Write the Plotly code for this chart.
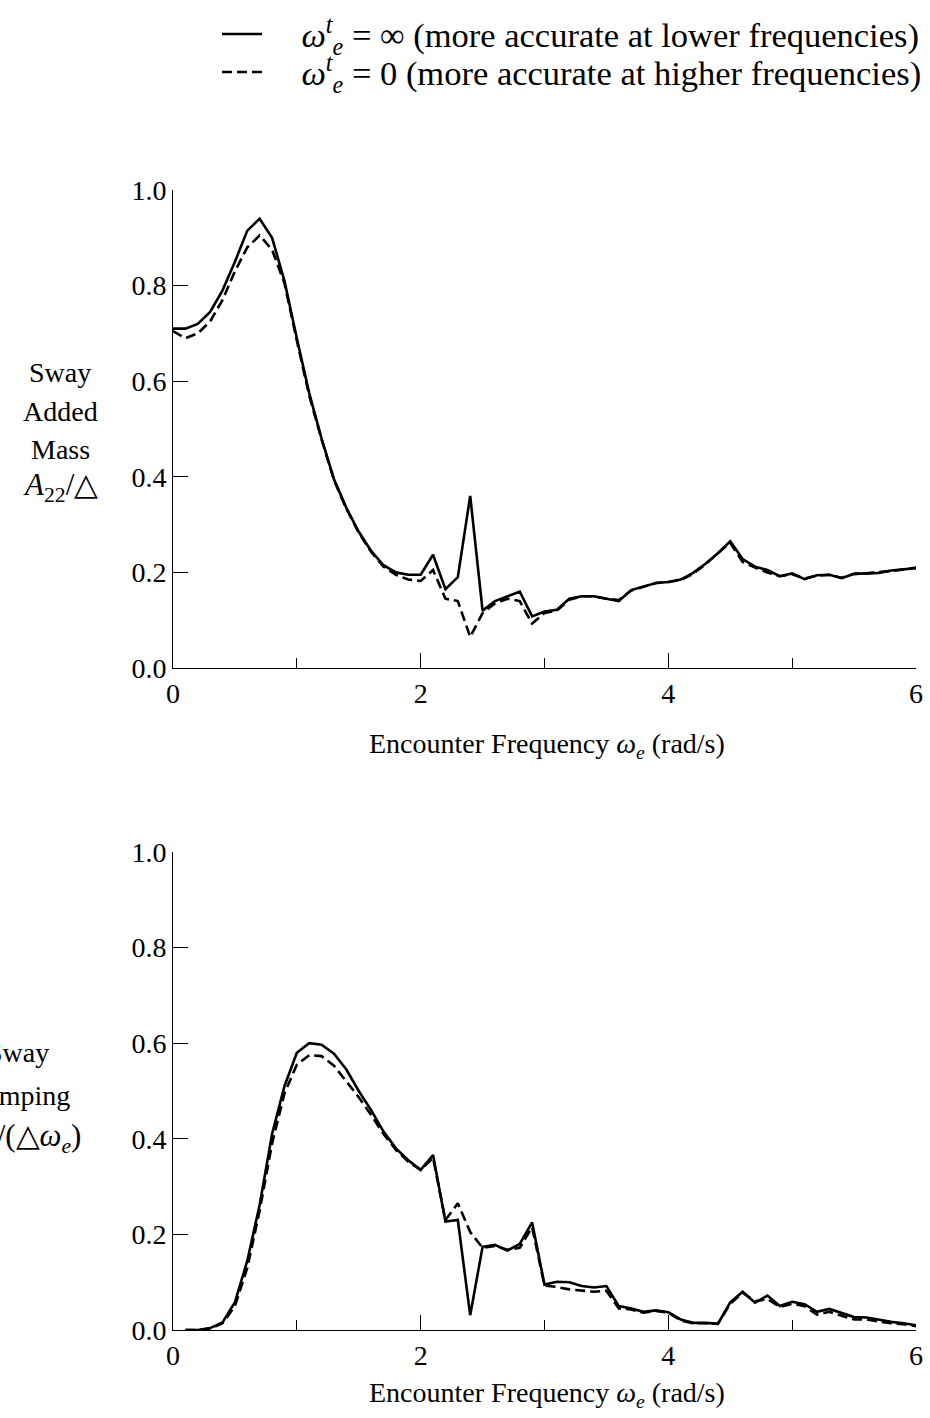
import plotly.graph_objects as go

# ---------------- data ----------------
freq_a = [0.0, 0.1, 0.2, 0.3, 0.4, 0.5, 0.6, 0.7, 0.8, 0.9,
          1.0, 1.1, 1.2, 1.3, 1.4, 1.5, 1.6, 1.7, 1.8, 1.9,
          2.0, 2.1, 2.2, 2.3, 2.4, 2.5, 2.6, 2.7, 2.8, 2.9,
          3.0, 3.1, 3.2, 3.3, 3.4, 3.5, 3.6, 3.7, 3.8, 3.9,
          4.0, 4.1, 4.2, 4.3, 4.4, 4.5, 4.6, 4.7, 4.8, 4.9,
          5.0, 5.1, 5.2, 5.3, 5.4, 5.5, 5.6, 5.7, 5.8, 5.9, 6.0]

a22_inf = [0.71, 0.71, 0.72, 0.745, 0.79, 0.85, 0.915, 0.94, 0.90, 0.81,
           0.69, 0.575, 0.48, 0.395, 0.335, 0.285, 0.245, 0.215, 0.20, 0.195,
           0.195, 0.237, 0.165, 0.19, 0.36, 0.12, 0.14, 0.15, 0.16, 0.108,
           0.118, 0.122, 0.145, 0.15, 0.15, 0.145, 0.14, 0.163, 0.17, 0.178,
           0.18, 0.185, 0.199, 0.218, 0.24, 0.265, 0.228, 0.212, 0.205, 0.192,
           0.198, 0.186, 0.194, 0.195, 0.188, 0.197, 0.198, 0.199, 0.204, 0.206, 0.209]

a22_zero = [0.705, 0.69, 0.70, 0.725, 0.77, 0.83, 0.88, 0.905, 0.875, 0.805,
            0.685, 0.57, 0.478, 0.393, 0.333, 0.283, 0.243, 0.212, 0.195, 0.185,
            0.182, 0.205, 0.145, 0.14, 0.065, 0.115, 0.135, 0.145, 0.14, 0.093,
            0.115, 0.12, 0.143, 0.15, 0.15, 0.145, 0.142, 0.162, 0.17, 0.178,
            0.18, 0.184, 0.197, 0.217, 0.24, 0.262, 0.222, 0.21, 0.20, 0.192,
            0.196, 0.187, 0.193, 0.195, 0.189, 0.197, 0.198, 0.20, 0.203, 0.206, 0.21]

freq_b = [0.1, 0.2, 0.3, 0.4, 0.5, 0.6, 0.7, 0.8, 0.9,
          1.0, 1.1, 1.2, 1.3, 1.4, 1.5, 1.6, 1.7, 1.8, 1.9,
          2.0, 2.1, 2.2, 2.3, 2.4, 2.5, 2.6, 2.7, 2.8, 2.9,
          3.0, 3.1, 3.2, 3.3, 3.4, 3.5, 3.6, 3.7, 3.8, 3.9,
          4.0, 4.1, 4.2, 4.3, 4.4, 4.5, 4.6, 4.7, 4.8, 4.9,
          5.0, 5.1, 5.2, 5.3, 5.4, 5.5, 5.6, 5.7, 5.8, 5.9, 6.0]

b22_inf = [0.0, 0.0, 0.004, 0.016, 0.058, 0.145, 0.262, 0.41, 0.51,
           0.58, 0.60, 0.597, 0.578, 0.545, 0.50, 0.46, 0.415, 0.38, 0.355,
           0.335, 0.366, 0.227, 0.23, 0.031, 0.174, 0.178, 0.166, 0.18, 0.225,
           0.095, 0.101, 0.100, 0.092, 0.089, 0.092, 0.05, 0.045, 0.038, 0.041,
           0.037, 0.022, 0.015, 0.015, 0.013, 0.058, 0.08, 0.057, 0.072, 0.05,
           0.059, 0.054, 0.038, 0.044, 0.035, 0.027, 0.026, 0.021, 0.017, 0.014, 0.01]

b22_zero = [0.0, 0.0, 0.003, 0.014, 0.05, 0.13, 0.25, 0.39, 0.495,
            0.555, 0.575, 0.573, 0.553, 0.52, 0.487, 0.45, 0.41, 0.377, 0.352,
            0.335, 0.36, 0.23, 0.265, 0.205, 0.172, 0.176, 0.168, 0.172, 0.215,
            0.093, 0.09, 0.085, 0.082, 0.08, 0.082, 0.045, 0.043, 0.036, 0.04,
            0.036, 0.02, 0.014, 0.014, 0.013, 0.055, 0.078, 0.06, 0.065, 0.048,
            0.055, 0.05, 0.032, 0.038, 0.03, 0.022, 0.022, 0.018, 0.014, 0.012, 0.008]

series_names = [
    "<i>ω</i><sup><i>t</i></sup><sub><i>e</i></sub> = ∞ (more accurate at lower frequencies)",
    "<i>ω</i><sup><i>t</i></sup><sub><i>e</i></sub> = 0 (more accurate at higher frequencies)",
]
x_title = "Encounter Frequency <i>ω</i><sub><i>e</i></sub> (rad/s)"
y_lines_top = ["Sway", "Added", "Mass", "<i>A</i><sub>22</sub>/△"]
y_lines_bot = ["Sway", "Damping", "<i>B</i><sub>22</sub>/(△<i>ω</i><sub><i>e</i></sub>)"]

# ---------------- figure ----------------
W, H = 930, 1418
FONT = "Liberation Serif, Times New Roman, serif"
FS = 28
MATH_FS = 31
LEG_FS = 34.5
LW = 2.6
DASH = "10px,5px"
PAD = "\u00a0" * 4

fig = go.Figure()
fig.add_trace(go.Scatter(x=freq_a, y=a22_inf, mode="lines", name=PAD + series_names[0],
                         legend="legend",
                         line=dict(color="black", width=LW), xaxis="x", yaxis="y"))
fig.add_trace(go.Scatter(x=freq_a, y=a22_zero, mode="lines", name=PAD + series_names[1],
                         legend="legend2",
                         line=dict(color="black", width=LW, dash=DASH), xaxis="x", yaxis="y"))
fig.add_trace(go.Scatter(x=freq_b, y=b22_inf, mode="lines", showlegend=False,
                         line=dict(color="black", width=LW), xaxis="x2", yaxis="y2"))
fig.add_trace(go.Scatter(x=freq_b, y=b22_zero, mode="lines", showlegend=False,
                         line=dict(color="black", width=LW, dash=DASH), xaxis="x2", yaxis="y2"))

x_dom = [173 / W, 916 / W]
top_dom = [1 - 668 / H, 1 - 190 / H]
bot_dom = [1 - 1330 / H, 1 - 852 / H]


def xax(anchor):
    return dict(domain=x_dom, anchor=anchor, range=[0, 6], dtick=2, tick0=0,
                ticks="inside", ticklen=15, tickwidth=1, tickcolor="black",
                minor=dict(dtick=1, tick0=0, ticks="inside", ticklen=10, tickwidth=1, tickcolor="black"),
                showline=True, linecolor="black", linewidth=1, showgrid=False, zeroline=False,
                automargin=False,
                tickfont=dict(family=FONT, size=FS, color="black"), fixedrange=True)


def yax(anchor, dom):
    return dict(domain=dom, anchor=anchor, range=[0, 1], dtick=0.2, tick0=0, tickformat=".1f",
                ticks="inside", ticklen=15, tickwidth=1, tickcolor="black",
                showline=True, linecolor="black", linewidth=1, showgrid=False, zeroline=False,
                automargin=False,
                tickfont=dict(family=FONT, size=FS, color="black"), fixedrange=True)


def legend_at(ypix):
    return dict(x=217 / W, xanchor="left", y=1 - ypix / H, yanchor="middle",
                bgcolor="rgba(0,0,0,0)", borderwidth=0,
                font=dict(family=FONT, size=LEG_FS, color="black"),
                itemwidth=40)


annotations = []
for i, t in enumerate(y_lines_top):
    fs = MATH_FS if i == len(y_lines_top) - 1 else FS
    annotations.append(dict(text=t, xref="paper", yref="paper", x=60 / W,
                            y=1 - (373 + 38 * i) / H, xanchor="center", yanchor="middle",
                            showarrow=False, font=dict(family=FONT, size=fs, color="black")))
for i, t in enumerate(y_lines_bot):
    fs = MATH_FS if i == len(y_lines_bot) - 1 else FS
    annotations.append(dict(text=t, xref="paper", yref="paper", x=18 / W,
                            y=1 - (1052 + 43 * i) / H, xanchor="center", yanchor="middle",
                            showarrow=False, font=dict(family=FONT, size=fs, color="black")))
annotations.append(dict(text=x_title, xref="paper", yref="paper", x=547 / W, y=1 - 746 / H,
                        xanchor="center", yanchor="middle", showarrow=False,
                        font=dict(family=FONT, size=FS, color="black")))
annotations.append(dict(text=x_title, xref="paper", yref="paper", x=547 / W, y=1 - 1394 / H,
                        xanchor="center", yanchor="middle", showarrow=False,
                        font=dict(family=FONT, size=FS, color="black")))

fig.update_layout(
    width=W, height=H,
    margin=dict(l=0, r=0, t=0, b=0, autoexpand=False),
    paper_bgcolor="white", plot_bgcolor="white",
    font=dict(family=FONT, size=FS, color="black"),
    xaxis=xax("y"), yaxis=yax("x", top_dom),
    xaxis2=xax("y2"), yaxis2=yax("x2", bot_dom),
    legend=legend_at(34),
    legend2=legend_at(72),
    annotations=annotations,
)

fig.write_html("out.html", config={"displayModeBar": False},
               post_script="document.body.style.margin='0px';")
